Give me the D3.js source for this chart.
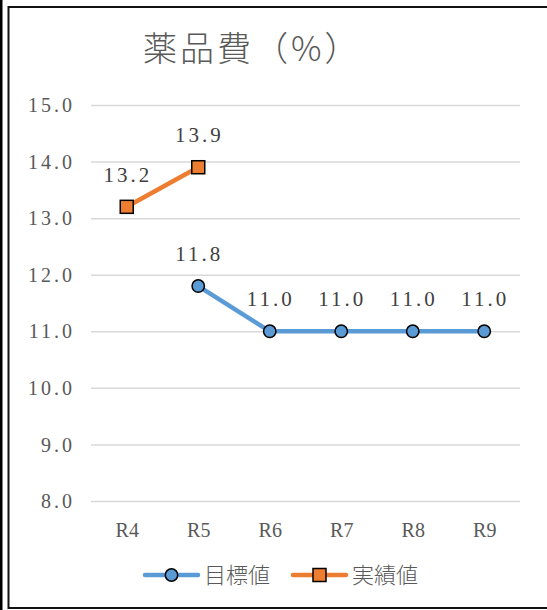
<!DOCTYPE html>
<html>
<head>
<meta charset="utf-8">
<script src="https://cdn.jsdelivr.net/npm/d3@7"></script>
<style>
  html, body { margin: 0; padding: 0; background: #fff; }
  svg { display: block; }
</style>
</head>
<body>
<script>
// Chart data
const categories = ["R4", "R5", "R6", "R7", "R8", "R9"];
const targetValues = [null, 11.8, 11.0, 11.0, 11.0, 11.0];   // 目標値
const actualValues = [13.2, 13.9, null, null, null, null];   // 実績値
const yTicks = [8, 9, 10, 11, 12, 13, 14, 15];
const seriesNames = ["目標値", "実績値"];
const titleText = "薬品費（%）";

const W = 547, H = 610;
const serif = "'Liberation Serif', 'DejaVu Serif', 'Noto Sans CJK JP', serif";
const cjk = "'Noto Sans CJK JP', sans-serif";
const grey = "#595959";
const blue = "#5B9BD5", orange = "#ED7D31";

const svg = d3.select("body").append("svg")
  .attr("width", W).attr("height", H);

svg.append("rect").attr("width", W).attr("height", H).attr("fill", "#fff");

// outer frame
svg.append("rect").attr("x", 0).attr("y", 0).attr("width", 2.5).attr("height", H).attr("fill", "#000");
svg.append("path")
  .attr("d", `M${W + 2},7 H8.5 V608 H${W + 2}`)
  .attr("fill", "none").attr("stroke", "#111").attr("stroke-width", 2);

const plot = { left: 91, right: 520, top: 105, bottom: 501 };

const x = d3.scalePoint().domain(categories)
  .range([plot.left, plot.right]).padding(0.5);
const y = d3.scaleLinear().domain([8, 15]).range([plot.bottom, plot.top]);

// title
svg.append("text")
  .attr("x", 143).attr("y", 61)
  .style("font-family", cjk).style("font-weight", 300)
  .style("font-size", "34px").style("letter-spacing", "3px").attr("fill", grey)
  .text(titleText);

// gridlines + y labels
const yAxis = d3.axisLeft(y).tickValues(yTicks)
  .tickSize(-(plot.right - plot.left)).tickPadding(16)
  .tickFormat(d3.format(".1f"));
const gy = svg.append("g").attr("transform", `translate(${plot.left},0)`).call(yAxis);
gy.select(".domain").remove();
gy.selectAll(".tick line").attr("stroke", "#d9d9d9").attr("stroke-width", 1.5);
gy.selectAll(".tick text")
  .style("font-family", serif).style("font-size", "20px").attr("fill", grey)
  .style("letter-spacing", "3px").attr("dy", "0.33em");

// x labels
const xAxis = d3.axisBottom(x).tickSize(0).tickPadding(22);
const gx = svg.append("g").attr("transform", `translate(0,${plot.bottom})`).call(xAxis);
gx.select(".domain").remove();
gx.selectAll(".tick text")
  .style("font-family", serif).style("font-size", "20px").attr("fill", grey);

const line = d3.line()
  .defined(d => d.v != null)
  .x(d => x(d.c)).y(d => y(d.v));

function seriesData(vals) {
  return categories.map((c, i) => ({ c, v: vals[i] }));
}

const tData = seriesData(targetValues);
const aData = seriesData(actualValues);

svg.append("path").datum(tData).attr("d", line)
  .attr("fill", "none").attr("stroke", blue).attr("stroke-width", 4.5)
  .attr("stroke-linejoin", "round");
svg.append("path").datum(aData).attr("d", line)
  .attr("fill", "none").attr("stroke", orange).attr("stroke-width", 4.5)
  .attr("stroke-linejoin", "round");

// markers
svg.selectAll(".tm").data(tData.filter(d => d.v != null)).enter()
  .append("circle")
  .attr("cx", d => x(d.c)).attr("cy", d => y(d.v)).attr("r", 6.2)
  .attr("fill", blue).attr("stroke", "#000").attr("stroke-width", 1.5);
svg.selectAll(".am").data(aData.filter(d => d.v != null)).enter()
  .append("rect")
  .attr("x", d => x(d.c) - 6.5).attr("y", d => y(d.v) - 6.5)
  .attr("width", 13).attr("height", 13)
  .attr("fill", orange).attr("stroke", "#000").attr("stroke-width", 1.5);

// value labels
const labels = tData.filter(d => d.v != null).concat(aData.filter(d => d.v != null));
svg.selectAll(".lbl").data(labels).enter()
  .append("text")
  .attr("x", d => x(d.c) + 1).attr("y", d => y(d.v) - 25)
  .attr("text-anchor", "middle")
  .style("font-family", serif).style("font-size", "21px").attr("fill", "#404040")
  .style("letter-spacing", "3px")
  .text(d => d3.format(".1f")(d.v));

// legend
const legend = [
  { name: seriesNames[0], color: blue, shape: "circle", x0: 145 },
  { name: seriesNames[1], color: orange, shape: "square", x0: 293 }
];
const ly = 575;
legend.forEach(l => {
  const g = svg.append("g");
  g.append("line").attr("x1", l.x0).attr("x2", l.x0 + 53).attr("y1", ly).attr("y2", ly)
    .attr("stroke", l.color).attr("stroke-width", 4.5).attr("stroke-linecap", "round");
  const cx = l.x0 + 26.5;
  if (l.shape === "circle") {
    g.append("circle").attr("cx", cx).attr("cy", ly).attr("r", 6.2)
      .attr("fill", l.color).attr("stroke", "#000").attr("stroke-width", 1.5);
  } else {
    g.append("rect").attr("x", cx - 6.5).attr("y", ly - 6.5).attr("width", 13).attr("height", 13)
      .attr("fill", l.color).attr("stroke", "#000").attr("stroke-width", 1.5);
  }
  g.append("text").attr("x", l.x0 + 59).attr("y", ly).attr("dy", "0.36em")
    .style("font-family", cjk).style("font-weight", 300)
    .style("font-size", "22px").attr("fill", grey).text(l.name);
});
</script>
</body>
</html>
